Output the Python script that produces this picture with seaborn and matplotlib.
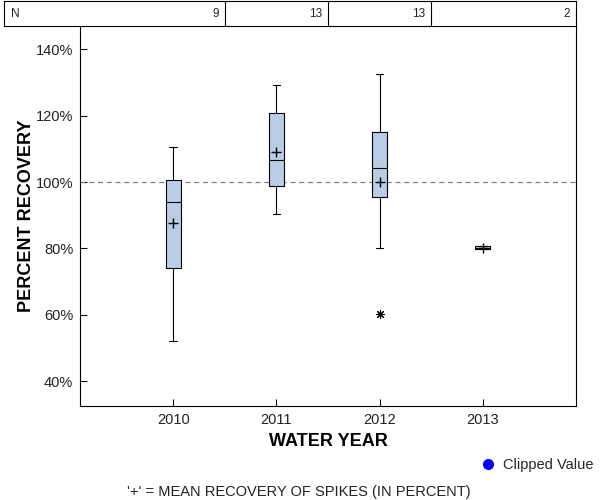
"""
plot.py

Box plot of spike recovery (percent) by water year, SAS-like layout
with an N table on top.
"""

import matplotlib
matplotlib.use("Agg")
import matplotlib.pyplot as plt
from matplotlib.lines import Line2D
from matplotlib.ticker import FuncFormatter
import seaborn as sns

# =========================
# Data
# =========================

years = ["2010", "2011", "2012", "2013"]
n_obs = [9, 13, 13, 2]

whisker_low = [52.0, 90.3, 80.0, 79.8]
q1 = [74.1, 98.7, 95.4, 79.8]
median = [94.0, 106.6, 104.1, 80.2]
q3 = [100.5, 120.7, 115.0, 80.6]
whisker_high = [110.5, 129.2, 132.5, 80.6]
mean = [87.8, 109.0, 100.1, 80.2]

outlier_pos = [2]
outlier_value = [60.1]

y_ticks = [40, 60, 80, 100, 120, 140]

BOX_COLOR = "#B9CDE5"

# =========================
# Style
# =========================

sns.set_theme(style="white")
plt.rcParams["font.family"] = ["Liberation Sans", "DejaVu Sans"]

W, H = 600, 500
fig = plt.figure(figsize=(6, 5), dpi=100)

# pixel geometry of the plot frame
left_px, right_px = 80.3, 575.7
top_px, bottom_px = 25.5, 406.0
ax = fig.add_axes([left_px / W, 1 - bottom_px / H,
                   (right_px - left_px) / W, (bottom_px - top_px) / H])

x_min, x_max = -0.902, 3.902
positions = list(range(len(years)))

# =========================
# Boxes
# =========================

stats = []
for i, year in enumerate(years):
    stats.append({
        "label": year,
        "whislo": whisker_low[i],
        "q1": q1[i],
        "med": median[i],
        "q3": q3[i],
        "whishi": whisker_high[i],
        "fliers": [],
    })

ax.axhline(100, color="#808080", linestyle=(0, (4, 3)), linewidth=0.9, zorder=1)

ax.bxp(
    stats,
    positions=positions,
    widths=0.146,
    capwidths=0.075,
    patch_artist=True,
    showfliers=False,
    boxprops=dict(facecolor=BOX_COLOR, edgecolor="black", linewidth=0.8),
    medianprops=dict(color="black", linewidth=0.8),
    whiskerprops=dict(color="black", linewidth=0.8),
    capprops=dict(color="black", linewidth=0.8),
    zorder=2,
)

sns.scatterplot(x=positions, y=mean, marker="+", s=45, color="black",
                linewidth=1.0, ax=ax, legend=False, zorder=3)
sns.scatterplot(x=outlier_pos, y=outlier_value, marker=(8, 2, 0), s=32,
                color="black", linewidth=0.8, ax=ax, legend=False, zorder=3)

# =========================
# Axes
# =========================

ax.set_xlim(x_min, x_max)
ax.set_ylim(32.5, 147.2)
ax.set_xticks(positions)
ax.set_xticklabels(years)
ax.set_yticks(y_ticks)
ax.yaxis.set_major_formatter(FuncFormatter(lambda v, _: f"{v:.0f}%"))
ax.tick_params(axis="both", direction="in", length=5, width=0.8,
               color="black", labelsize=10.5, labelcolor="#222222", pad=5)
ax.tick_params(axis="x", bottom=True)
ax.tick_params(axis="y", left=True)

for spine in ax.spines.values():
    spine.set_color("black")
    spine.set_linewidth(0.8)
ax.spines["top"].set_visible(False)

ax.set_xlabel("")
ax.set_ylabel("")

fig.text(328 / W, 1 - 442 / H, "WATER YEAR", ha="center", va="center",
         fontsize=13, fontweight="bold", color="black")
fig.text(27 / W, 1 - 216 / H, "PERCENT RECOVERY", ha="center", va="center",
         rotation=90, fontsize=13, fontweight="bold", color="black")

# =========================
# N table
# =========================

tab_left, tab_top = 4.0, 1.0
tab = fig.add_axes([tab_left / W, 1 - top_px / H,
                    (right_px - tab_left) / W, (top_px - tab_top) / H])
px_per_unit = (right_px - left_px) / (x_max - x_min)
tab.set_xlim(x_min - (left_px - tab_left) / px_per_unit, x_max)
tab.set_ylim(0, 1)
tab.set_xticks([])
tab.set_yticks([])
for spine in tab.spines.values():
    spine.set_color("black")
    spine.set_linewidth(0.8)
for i in range(len(years) - 1):
    tab.axvline(i + 0.5, color="black", linewidth=0.8)

tab.text(tab.get_xlim()[0] + 7 / px_per_unit, 0.45, "N", ha="left", va="center",
         fontsize=8.5, color="#222222")
for i, n in enumerate(n_obs):
    right_edge = i + 0.5 if i < len(years) - 1 else x_max
    tab.text(right_edge - 6 / px_per_unit, 0.45, str(n), ha="right", va="center",
             fontsize=8.5, color="#222222")

# =========================
# Legend and footnote
# =========================

handle = Line2D([], [], marker="o", linestyle="none", markersize=7,
                markerfacecolor="blue", markeredgecolor="blue")
fig.legend([handle], ["Clipped Value"], loc="center left",
           bbox_to_anchor=(472 / W, 1 - 465 / H), frameon=False,
           fontsize=10.5, handletextpad=0.4, borderpad=0, handlelength=1.2)

fig.text(299 / W, 1 - 492 / H, "'+' = MEAN RECOVERY OF SPIKES (IN PERCENT)",
         ha="center", va="center", fontsize=10.5, color="#222222")

fig.savefig("out.png", dpi=100)
plt.close(fig)
